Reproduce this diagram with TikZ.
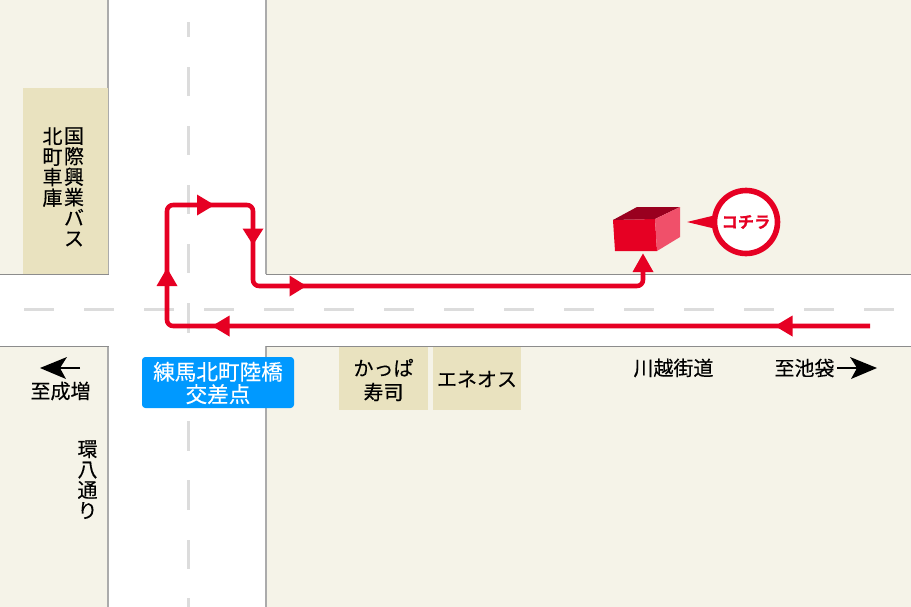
\documentclass[tikz,border=0pt]{standalone}
\usepackage{fontspec}
\setmainfont{Noto Sans CJK JP}[FakeBold=0.25]
\newfontfamily\cjkbold{Noto Sans CJK JP Bold}[FakeBold=0.8]
\definecolor{ground}{HTML}{F5F3E8}
\definecolor{tan}{HTML}{E9E2BF}
\definecolor{kerb}{HTML}{8C8C8C}
\definecolor{kerbside}{HTML}{ABABAB}
\definecolor{lanedash}{HTML}{DCDCDC}
\definecolor{routered}{HTML}{E60023}
\definecolor{boxtop}{HTML}{99001F}
\definecolor{boxside}{HTML}{F0506A}
\definecolor{signblue}{HTML}{0099FF}
\tikzset{
  x=0.75pt,y=-0.75pt,
  block/.style={fill=ground,draw=none},
  kerbline/.style={draw=kerb,line width=1.1pt},
  kerbv/.style={draw=kerbside,line width=1.1pt},
  lane/.style={draw=lanedash,line width=2.25pt},
  route/.style={draw=routered,line width=3.4pt,line join=round,rounded corners=4.5pt},
  tip/.style={fill=routered,draw=none},
  shop/.style={fill=tan,draw=none,inner sep=0pt,anchor=north west},
  lbl/.style={inner sep=0pt,align=center,font=\fontsize{15pt}{18pt}\selectfont},
  vlbl/.style={inner sep=0pt,align=center,font=\fontsize{15pt}{15.4pt}\selectfont},
  sign/.style={fill=signblue,rounded corners=2.5pt,inner sep=0pt},
  signtext/.style={text=white,inner sep=0pt,align=center,font=\fontsize{16.2pt}{16.8pt}\selectfont},
  blackhead/.style={fill=black,draw=none},
  tailline/.style={draw=black,line width=1.8pt},
}
\begin{document}
\begin{tikzpicture}
\useasboundingbox (0,0) rectangle (911,607);
\fill[white] (0,0) rectangle (911,607);
% ground blocks
\fill[block] (0,0) rectangle (108,274);
\fill[block] (266,0) rectangle (911,274);
\fill[block] (0,346) rectangle (108,607);
\fill[block] (266,346) rectangle (911,607);
% lane dashes
\foreach \x in {24,84,...,864} \draw[lane] (\x,309.5) -- ++(30,0);
\draw[lane] (188.5,22) -- (188.5,37);
\foreach \y/\e in {67/96,126/155,185/214,244/273,303/333,362/392,421/451,480/510,540/569,598/607}
  \draw[lane] (188.5,\y) -- (188.5,\e);
% kerbs
\draw[kerbv] (108,0) -- (108,274);
\draw[kerbv] (266,0) -- (266,274);
\draw[kerbv] (108,346) -- (108,607);
\draw[kerbv] (266,346) -- (266,607);
\draw[kerbline] (0,274.5) -- (108.5,274.5);
\draw[kerbline] (265.5,274.5) -- (911,274.5);
\draw[kerbline] (0,346.5) -- (108.5,346.5);
\draw[kerbline] (265.5,346.5) -- (911,346.5);
% buildings
\node[shop,minimum width=84.5*0.75pt,minimum height=185.5*0.75pt] (busdepot) at (23,88) {};
\node[vlbl,anchor=north] (busa) at (74,127) {国\\際\\興\\業\\バ\\ス};
\node[vlbl,anchor=north] (busb) at (52.5,127) {北\\町\\車\\庫};
\node[shop,minimum width=89*0.75pt,minimum height=63*0.75pt] (kappa) at (339,347) {};
\node[lbl] (kappatext) at (383.5,380) {かっぱ\\寿司};
\node[shop,minimum width=88*0.75pt,minimum height=63*0.75pt] (eneos) at (433,347) {};
\node[lbl] (eneostext) at (477,379) {エネオス};
% route
\coordinate (rstart) at (870,326);
\coordinate (ra) at (167,326);
\coordinate (rb) at (167,205);
\coordinate (rc) at (253,205);
\coordinate (rd) at (253,286);
\coordinate (re) at (643,286);
\coordinate (rend) at (643,265);
\draw[route] (rstart) -- (ra) -- (rb) -- (rc) -- (rd) -- (re) -- (rend);
\fill[tip] (775,326) -- (792.5,315.5) -- (792.5,336.5) -- cycle;
\fill[tip] (212,326) -- (229.5,315.5) -- (229.5,336.5) -- cycle;
\fill[tip] (167,268) -- (156.5,286) -- (177.5,286) -- cycle;
\fill[tip] (214.5,205) -- (197,194.5) -- (197,215.5) -- cycle;
\fill[tip] (253,245) -- (242.5,228.5) -- (263.5,228.5) -- cycle;
\fill[tip] (306.5,286) -- (289.5,275.5) -- (289.5,296.5) -- cycle;
\fill[tip] (643,253.5) -- (632.5,272) -- (653.5,272) -- cycle;
% destination box
\fill[routered] (613,220) -- (655,219) -- (657,251) -- (615,251) -- cycle;
\fill[boxtop] (613,220) -- (637,207) -- (680,207) -- (655,219) -- cycle;
\fill[boxside] (655,219) -- (680,207) -- (680,237) -- (657,251) -- cycle;
% callout
\fill[routered] (687,222) -- (716,215) -- (716,229) -- cycle;
\node[circle,draw=routered,fill=white,line width=4.2pt,minimum size=63*0.75pt,inner sep=0pt,
      font=\cjkbold\fontsize{12.2pt}{13pt}\selectfont,text=routered] (kochira) at (746,222) {コチラ};
% sign
\node[sign,minimum width=152*0.75pt,minimum height=51*0.75pt] (crossing) at (218,382.5) {};
\node[signtext] (crossingtext) at (218,383) {練馬北町陸橋\\交差点};
% labels
\node[lbl] (west) at (60.5,391) {至成増};
\node[lbl] (east) at (804.5,368) {至池袋};
\node[lbl] (road) at (673.5,368) {川越街道};
\node[vlbl,anchor=north] (ring) at (87.5,440) {環\\八\\通\\り};
% black arrows
\coordinate (wt) at (80,368);
\coordinate (wn) at (57,368);
\draw[tailline] (wt) -- (wn);
\fill[blackhead] (40,368) -- (67,357) -- (60,368) -- (66,379) -- cycle;
\coordinate (et) at (837,368);
\coordinate (en) at (860,368);
\draw[tailline] (et) -- (en);
\fill[blackhead] (877,368) -- (850,357) -- (857,368) -- (851,379) -- cycle;
\end{tikzpicture}
\end{document}
